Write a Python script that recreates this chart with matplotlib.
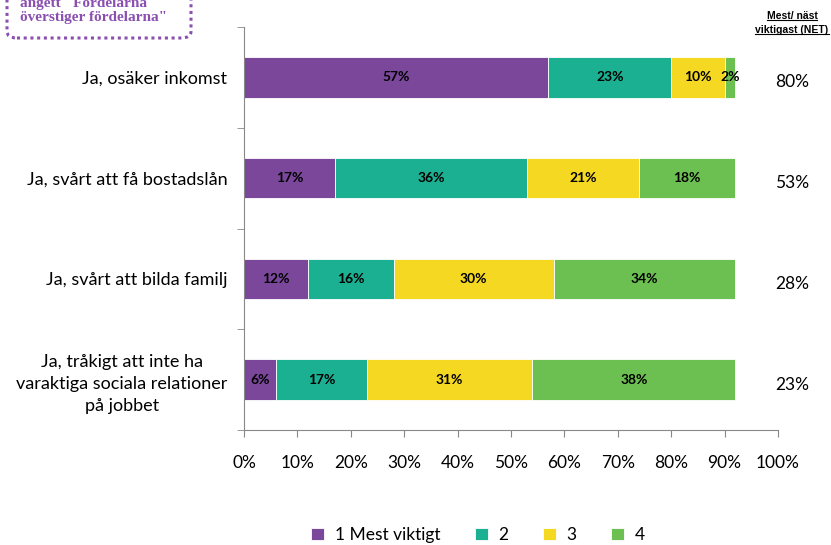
import matplotlib
matplotlib.use("Agg")
import matplotlib.pyplot as plt
from matplotlib.patches import FancyBboxPatch
from matplotlib.lines import Line2D
import numpy as np

categories = ["Ja, osäker inkomst",
              "Ja, svårt att få bostadslån",
              "Ja, svårt att bilda familj",
              "Ja, tråkigt att inte ha\nvaraktiga sociala relationer\npå jobbet"]
series_names = ["1 Mest viktigt", "2", "3", "4"]
s1 = [57, 17, 12, 6]
s2 = [23, 36, 16, 17]
s3 = [10, 21, 30, 31]
s4 = [2, 18, 34, 38]
net = [80, 53, 28, 23]
xticks = [0, 10, 20, 30, 40, 50, 60, 70, 80, 90, 100]
colors = ["#7A479B", "#1BB092", "#F4D821", "#6CBF51"]

plt.rcParams['font.family'] = ['Lato', 'DejaVu Sans']

fig = plt.figure(figsize=(8.31, 5.45), dpi=100)
ax = fig.add_axes([244/831, 1-430/545, 534/831, 403/545])

y = np.arange(len(categories))
left = np.zeros(len(categories))
for vals, col, name in zip([s1, s2, s3, s4], colors, series_names):
    vals = np.array(vals, dtype=float)
    ax.barh(y, vals, left=left, height=0.4, color=col, edgecolor="white",
            linewidth=0.6, label=name)
    for yi, l, v in zip(y, left, vals):
        ax.text(l + v/2, yi, f"{int(v)}%", ha="center", va="center",
                fontsize=10, fontweight="bold", color="black")
    left += vals

ax.set_xlim(0, 100)
ax.set_ylim(3.5, -0.5)
ax.set_xticks(xticks)
ax.set_xticklabels([f"{t}%" for t in xticks], fontsize=12.5)
ax.tick_params(axis="x", length=5, color="#888888", pad=13)
ax.set_yticks(y)
ax.set_yticklabels(categories, fontsize=13, multialignment="center", linespacing=1.45)
ax.tick_params(axis="y", which="major", length=0, pad=12)
ax.set_yticks([-0.5, 0.5, 1.5, 2.5, 3.5], minor=True)
ax.tick_params(axis="y", which="minor", length=5, color="#888888")
for sp in ["top", "right"]:
    ax.spines[sp].set_visible(False)
for sp in ["left", "bottom"]:
    ax.spines[sp].set_color("#888888")

for yi, n in zip(y, net):
    ax.text(102.6, yi + 0.05, f"{n}%", ha="center", va="center", fontsize=12.5,
            transform=ax.transData, clip_on=False)

# NET header
hdr1 = fig.text(792/831, 1-16/545, "Mest/ näst", ha="center", va="center",
                fontsize=7.5, fontweight="bold", family="Liberation Sans")
hdr2 = fig.text(792/831, 1-30/545, "viktigast (NET)", ha="center", va="center",
                fontsize=7.5, fontweight="bold", family="Liberation Sans")

# Title (cut off at top, as in the reference)
fig.text(500/831, 1+9/545, "Nackdelar, på jobbet, rangordnade efter hur viktiga (Bas)",
         ha="center", va="center", fontsize=13)

# Dotted box top-left
box = FancyBboxPatch((7/831, 1-38/545), 184/831, 60/545,
                     boxstyle="round,pad=0,rounding_size=0.012",
                     transform=fig.transFigure, facecolor="white",
                     edgecolor="#8A4FB0", linewidth=2.2, linestyle=(0, (1, 1.2)),
                     clip_on=False)
fig.patches.append(box)
fig.text(20/831, 1-3/545, "angett \"Fördelarna", ha="left", va="center",
         fontsize=11, fontweight="bold", color="#8A4FB0", family="Liberation Serif")
fig.text(20/831, 1-18/545, "överstiger fördelarna\"", ha="left", va="center",
         fontsize=11, fontweight="bold", color="#8A4FB0", family="Liberation Serif")

leg = fig.legend(loc="center", bbox_to_anchor=(478/831, 1-535/545), ncol=4,
                 frameon=False, fontsize=12.5, handlelength=0.75, handleheight=0.75,
                 handletextpad=0.6, columnspacing=2.0)

fig.canvas.draw()
r = fig.canvas.get_renderer()
inv = fig.transFigure.inverted()
for h in (hdr1, hdr2):
    bb = h.get_window_extent(r)
    (x0, y0), (x1, _) = inv.transform([(bb.x0, bb.y0), (bb.x1, bb.y1)])
    fig.add_artist(Line2D([x0, x1], [y0 + 0.002, y0 + 0.002], transform=fig.transFigure,
                          color="black", linewidth=0.8))

fig.savefig("out.png", dpi=100)
